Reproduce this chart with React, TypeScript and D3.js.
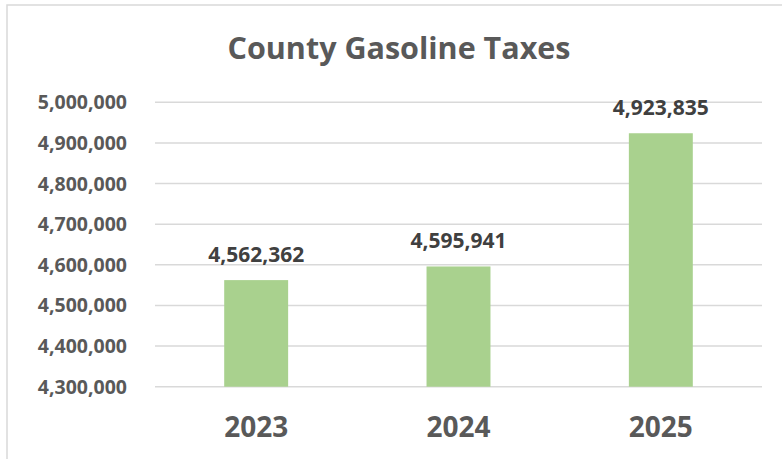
import React from "react";
import * as d3 from "d3";

const categories = ["2023", "2024", "2025"];
const values = [4562362, 4595941, 4923835];
const yTicks = [4300000, 4400000, 4500000, 4600000, 4700000, 4800000, 4900000, 5000000];
const title = "County Gasoline Taxes";

const W = 782;
const H = 459;
const plot = { left: 155, right: 762, top: 102.3, bottom: 386.7 };
const FONT = "'Open Sans', 'Noto Sans', sans-serif";

export default function App() {
  const x = d3.scaleBand<string>().domain(categories).range([plot.left, plot.right]).padding(0);
  const y = d3.scaleLinear().domain([4300000, 5000000]).range([plot.bottom, plot.top]);
  const barW = x.bandwidth() * 0.316;
  const fmt = d3.format(",");

  return (
    <svg width={W} height={H} style={{ position: "absolute", left: 0, top: 0, background: "#fff" }}>
      <rect x={7} y={5} width={W + 20} height={H + 20} fill="#fff" stroke="#d9d9d9" strokeWidth={1.5} />
      <text
        x={399}
        y={59}
        textAnchor="middle"
        fontFamily={FONT}
        fontWeight={700}
        fontSize={30.5}
        fill="#595959"
      >
        {title}
      </text>
      {yTicks.map((t) => (
        <g key={t}>
          <line x1={plot.left} x2={plot.right} y1={y(t)} y2={y(t)} stroke="#d9d9d9" strokeWidth={1.5} />
          <text
            x={127}
            y={y(t)}
            dy="0.36em"
            textAnchor="end"
            fontFamily={FONT}
            fontWeight={700}
            fontSize={19.5}
            fill="#595959"
          >
            {fmt(t)}
          </text>
        </g>
      ))}
      {categories.map((c, i) => {
        const cx = (x(c) as number) + x.bandwidth() / 2;
        return (
          <g key={c}>
            <rect
              x={cx - barW / 2}
              y={y(values[i])}
              width={barW}
              height={plot.bottom - y(values[i])}
              fill="#a9d18e"
            />
            <text
              x={cx}
              y={y(values[i]) - 18}
              textAnchor="middle"
              fontFamily={FONT}
              fontWeight={700}
              fontSize={21}
              fill="#404040"
            >
              {fmt(values[i])}
            </text>
            <text
              x={cx}
              y={437}
              textAnchor="middle"
              fontFamily={FONT}
              fontWeight={700}
              fontSize={28}
              fill="#595959"
            >
              {c}
            </text>
          </g>
        );
      })}
    </svg>
  );
}
